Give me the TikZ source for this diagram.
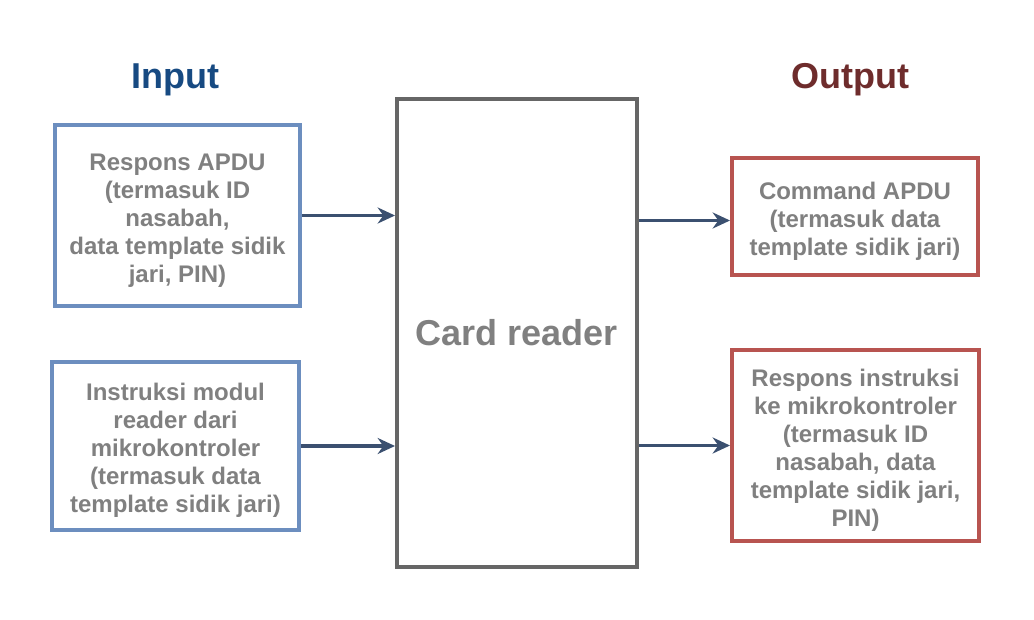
\documentclass[tikz,border=0pt]{standalone}
\usepackage{fontspec}
\setmainfont{Liberation Sans}
\usetikzlibrary{arrows.meta, positioning}

\definecolor{inblue}{HTML}{6C8EBF}
\definecolor{outred}{HTML}{B85450}
\definecolor{readergray}{HTML}{666666}
\definecolor{textgray}{HTML}{808080}
\definecolor{arrowblue}{HTML}{3B5070}
\definecolor{titleblue}{HTML}{174A82}
\definecolor{titlered}{HTML}{6E2C2C}

% extra room above the first line of a box
\newcommand{\topgap}{\rule{0pt}{20pt}}

\tikzset{
  box/.style={draw, line width=3pt, fill=white, align=center, inner sep=0pt,
    text=textgray, font=\fontsize{18}{21}\selectfont\bfseries},
  inbox/.style={box, draw=inblue},
  outbox/.style={box, draw=outred},
  readerbox/.style={draw=readergray, line width=3pt, fill=white, inner sep=0pt,
    text=textgray, font=\fontsize{27}{32}\selectfont\bfseries},
  title/.style={font=\fontsize{27}{32}\selectfont\bfseries},
  flow/.style={draw=arrowblue, line width=2.6pt, -{Stealth[length=13pt, width=12pt]}}
}

\begin{document}
\begin{tikzpicture}[x=0.75pt, y=-0.75pt]
  % canvas
  \useasboundingbox (0,0) rectangle (1034,620);

  % titles
  \node[title, text=titleblue] (intitle) at (175,80) {Input};
  \node[title, text=titlered] (outtitle) at (850,80) {Output};

  % card reader
  \node[readerbox, minimum width=240*0.75pt, minimum height=468*0.75pt] (reader) at (517,333) {Card reader};

  % input boxes
  \node[inbox, minimum width=245*0.75pt, minimum height=181*0.75pt] (in1) at (177.5,215.5)
    {\topgap Respons APDU\\(termasuk ID\\nasabah,\\data template sidik\\jari, PIN)};
  \node[inbox, minimum width=247*0.75pt, minimum height=168*0.75pt] (in2) at (175.5,446)
    {\topgap Instruksi modul\\reader dari\\mikrokontroler\\(termasuk data\\template sidik jari)};

  % output boxes
  \node[outbox, minimum width=246*0.75pt, minimum height=117*0.75pt] (out1) at (855,216.5)
    {\topgap Command APDU\\(termasuk data\\template sidik jari)};
  \node[outbox, minimum width=247*0.75pt, minimum height=191*0.75pt] (out2) at (855.5,445.5)
    {\topgap Respons instruksi\\ke mikrokontroler\\(termasuk ID\\nasabah, data\\template sidik jari,\\PIN)};

  % connectors
  \draw[flow] (in1.east) -- (in1.east -| reader.west);
  \draw[flow] (in2.east) -- (in2.east -| reader.west);
  \draw[flow] ([yshift=-3pt]out1.west -| reader.east) -- ([yshift=-3pt]out1.west);
  \draw[flow] (out2.west -| reader.east) -- (out2.west);
\end{tikzpicture}
\end{document}
